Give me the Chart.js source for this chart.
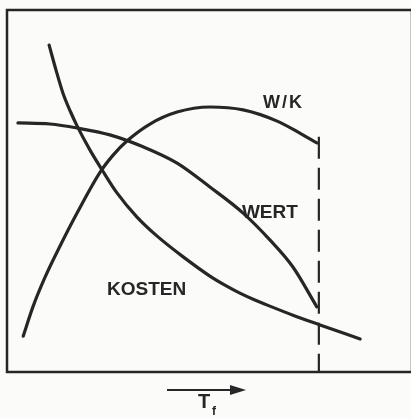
<!DOCTYPE html>
<html>
<head>
<meta charset="utf-8">
<script src="https://cdn.jsdelivr.net/npm/chart.js@4"></script>
<style>
  html, body { margin: 0; padding: 0; background: #fbfbf9; overflow: hidden; }
  #wrap { width: 414px; height: 419px; position: relative; }
</style>
</head>
<body>
<div id="wrap"><canvas id="c"></canvas></div>
<script>
// Values (x: T_f, 0..100 ; y: 0..100)
const kostenX = [10.4, 12.1, 13.8, 15.6, 17.3, 20.5, 23.5, 27.2, 32.1, 37.0, 43.5, 50.1, 53.8, 57.5, 61.2, 64.9, 70.6, 77.3, 87.2];
const kostenY = [90.3, 83.4, 77.1, 72.1, 68.0, 61.3, 55.8, 49.4, 42.8, 37.6, 31.8, 26.5, 24.0, 21.8, 19.9, 18.2, 15.7, 13.0, 9.1];

const wertX = [2.7, 10.6, 17.3, 25.4, 33.6, 42.0, 50.1, 58.3, 64.9, 70.6, 76.5];
const wertY = [68.8, 68.5, 67.4, 65.5, 62.2, 57.7, 51.1, 43.9, 36.5, 29.0, 18.0];

const wkX = [4.0, 6.4, 9.4, 13.1, 17.3, 23.0, 26.2, 29.6, 35.3, 42.0, 50.1, 58.3, 66.7, 72.3, 76.5];
const wkY = [9.9, 18.0, 26.2, 34.8, 43.9, 55.2, 59.9, 63.8, 68.5, 71.8, 73.2, 72.4, 69.3, 66.0, 63.3];

const limitX = [77.0, 77.0];
const limitY = [65.0, 0];

const labels = ["W/K", "WERT", "KOSTEN"];
const labelX = [63.2, 58.0, 24.7];
const labelY = [72.9, 42.5, 21.3];

const axisTitle = "T";
const axisSub = "f";

const ink = "#262626";
const pts = (xs, ys) => xs.map((x, i) => ({ x, y: ys[i] }));

const decor = {
  id: "decor",
  afterDatasetsDraw(chart) {
    const { ctx, chartArea: a, scales } = chart;
    ctx.save();
    // frame
    ctx.strokeStyle = ink;
    ctx.lineWidth = 2.5;
    ctx.strokeRect(a.left, a.top, a.right - a.left, a.bottom - a.top);
    // curve labels
    ctx.fillStyle = ink;
    ctx.textBaseline = "alphabetic";
    ctx.textAlign = "left";
    labels.forEach((t, i) => {
      ctx.font = i === 0 ? "bold 18px 'Liberation Sans', Arial, sans-serif" : "bold 19px 'Liberation Sans', Arial, sans-serif";
      ctx.letterSpacing = i === 0 ? "2px" : "0px";
      ctx.fillText(t, scales.x.getPixelForValue(labelX[i]), scales.y.getPixelForValue(labelY[i]));
    });
    ctx.letterSpacing = "0px";
    // arrow below axis
    const ay = a.bottom + 18;
    ctx.lineWidth = 2.2;
    ctx.beginPath();
    ctx.moveTo(167, ay);
    ctx.lineTo(233, ay);
    ctx.stroke();
    ctx.beginPath();
    ctx.moveTo(246, ay);
    ctx.lineTo(230, ay - 5);
    ctx.lineTo(230, ay + 5);
    ctx.closePath();
    ctx.fill();
    // axis title T_f
    ctx.font = "bold 20px 'Liberation Sans', Arial, sans-serif";
    ctx.fillText(axisTitle, 198, a.bottom + 36);
    ctx.font = "bold 12px 'Liberation Sans', Arial, sans-serif";
    ctx.fillText(axisSub, 212, a.bottom + 43);
    ctx.restore();
  }
};

new Chart(document.getElementById("c"), {
  type: "line",
  data: {
    datasets: [
      { label: "KOSTEN", data: pts(kostenX, kostenY), borderColor: ink, borderWidth: 3.2, cubicInterpolationMode: "monotone" },
      { label: "WERT", data: pts(wertX, wertY), borderColor: ink, borderWidth: 3.2, cubicInterpolationMode: "monotone" },
      { label: "W/K", data: pts(wkX, wkY), borderColor: ink, borderWidth: 3.2, cubicInterpolationMode: "monotone" },
      { label: "Grenze", data: pts(limitX, limitY), borderColor: ink, borderWidth: 2.2, borderDash: [22, 9], borderCapStyle: "butt", tension: 0 }
    ]
  },
  options: {
    responsive: true,
    maintainAspectRatio: false,
    animation: false,
    layout: { padding: { left: 7, top: 10, right: 2, bottom: 47 } },
    elements: { point: { radius: 0, hoverRadius: 0 }, line: { borderCapStyle: "round", fill: false } },
    plugins: { legend: { display: false }, tooltip: { enabled: false } },
    scales: {
      x: { type: "linear", min: 0, max: 100, display: false },
      y: { type: "linear", min: 0, max: 100, display: false }
    }
  },
  plugins: [decor]
});
</script>
</body>
</html>
